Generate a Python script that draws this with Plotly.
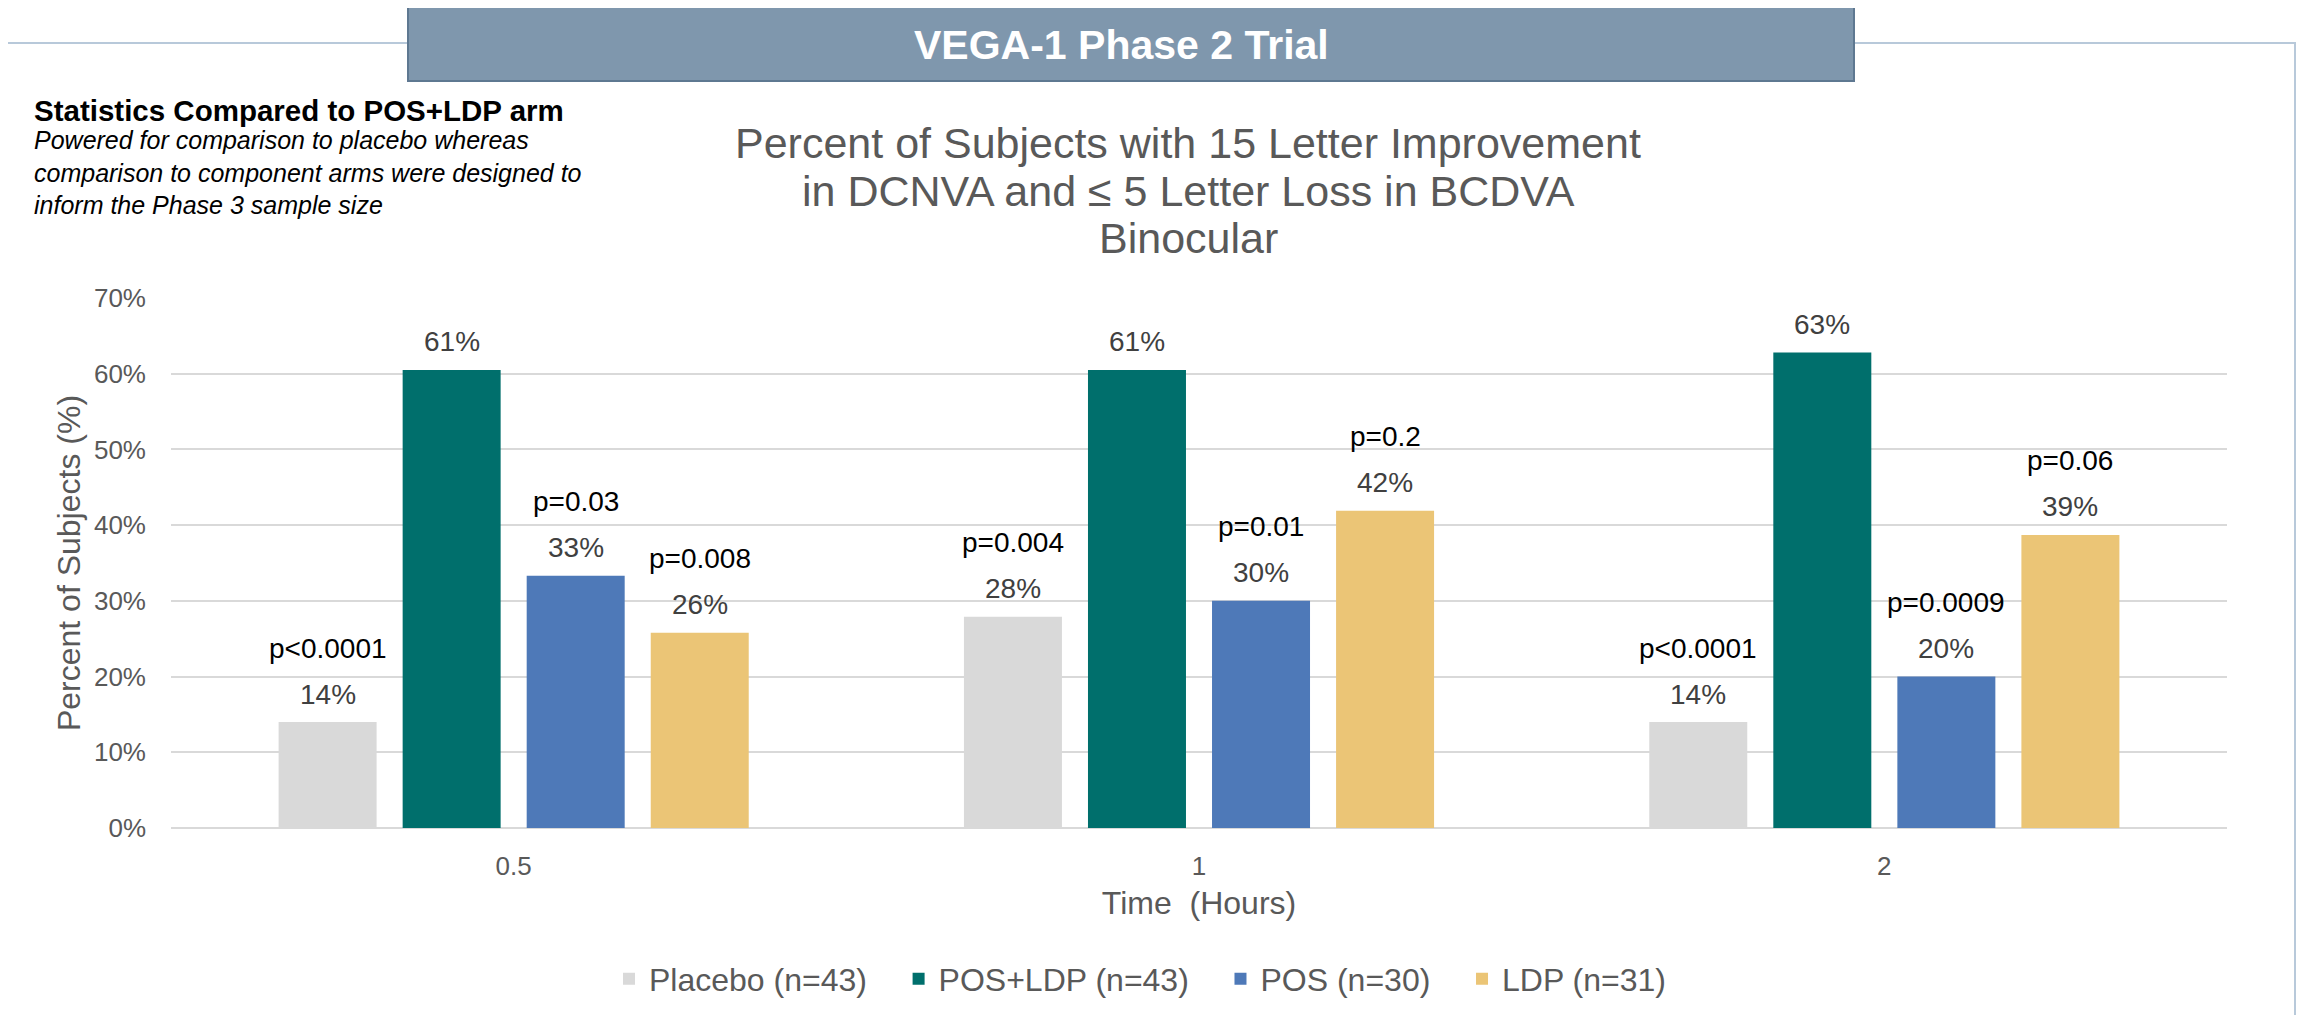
import plotly.graph_objects as go

# datos del grafico
horas = ['0.5', '1', '2']
series = ['Placebo (n=43)', 'POS+LDP (n=43)', 'POS (n=30)', 'LDP (n=31)']
placebo = [14.0, 27.9, 14.0]
pos_ldp = [60.5, 60.5, 62.8]
pos = [33.3, 30.0, 20.0]
ldp = [25.8, 41.9, 38.7]
p_placebo = ['p<0.0001', 'p=0.004', 'p<0.0001']
p_pos_ldp = ['', '', '']
p_pos = ['p=0.03', 'p=0.01', 'p=0.0009']
p_ldp = ['p=0.008', 'p=0.2', 'p=0.06']
colores = ['#d9d9d9', '#006f6c', '#4e79b8', '#ebc576']
titulo = ['Percent of Subjects with 15 Letter Improvement',
	'in DCNVA and ≤ 5 Letter Loss in BCDVA', 'Binocular']

valores = [placebo, pos_ldp, pos, ldp]
pvalores = [p_placebo, p_pos_ldp, p_pos, p_ldp]

# medidas (la pagina deja 8px de margen alrededor de la figura)
OFF = 8
W, H = 2305 - 2 * OFF, 1023 - 2 * OFF
M_L, M_R, M_T, M_B = 171 - OFF, 78 - OFF, 298 - OFF, 195 - OFF
PLOT_W = W - M_L - M_R
PLOT_H = H - M_T - M_B
BARGAP = 0.276
GROUPGAP = 0.21
FUENTE = 'Arial, Liberation Sans, sans-serif'
GRIS = '#595959'


def px_x(p):
	# pixel horizontal de la ventana -> coordenada paper
	return (p - OFF - M_L) / PLOT_W


def px_y(p):
	# pixel vertical de la ventana -> coordenada paper
	return (H - M_B - (p - OFF)) / PLOT_H


fig = go.Figure()
for nombre, ys, color in zip(series, valores, colores):
	fig.add_trace(go.Bar(x=horas, y=ys, name=nombre + '\u00a0' * 3,
		marker=dict(color=color, line=dict(width=0))))

# etiquetas de valor y de p sobre cada barra
slot = (1 - BARGAP) / len(series)
anotaciones = []
for i, (ys, ps) in enumerate(zip(valores, pvalores)):
	for j, (v, p) in enumerate(zip(ys, ps)):
		xx = j + (i - (len(series) - 1) / 2) * slot
		anotaciones.append(dict(x=xx, y=v, xref='x', yref='y', text='%.0f%%' % (v + 1e-9),
			showarrow=False, yanchor='middle', yshift=28,
			font=dict(size=28, color='#404040', family=FUENTE)))
		if p:
			anotaciones.append(dict(x=xx, y=v, xref='x', yref='y', text=p,
				showarrow=False, yanchor='middle', yshift=74,
				font=dict(size=28, color='black', family=FUENTE)))

# titulo del grafico, una linea por anotacion
for k, linea in enumerate(titulo):
	anotaciones.append(dict(x=px_x(1188), y=px_y(143 + 47.5 * k), xref='paper', yref='paper',
		text=linea, showarrow=False, xanchor='center', yanchor='middle',
		font=dict(size=43, color=GRIS, family=FUENTE)))

# textos de la cabecera
anotaciones.append(dict(x=px_x(1121), y=px_y(45), xref='paper', yref='paper',
	text='<b>VEGA-1 Phase 2 Trial</b>', showarrow=False, xanchor='center', yanchor='middle',
	font=dict(size=41, color='white', family=FUENTE)))
anotaciones.append(dict(x=px_x(32), y=px_y(110), xref='paper', yref='paper',
	text='<b>Statistics Compared to POS+LDP arm</b>', showarrow=False,
	xanchor='left', yanchor='middle', font=dict(size=29.5, color='black', family=FUENTE)))
anotaciones.append(dict(x=px_x(32), y=px_y(172), xref='paper', yref='paper',
	text='<i>Powered for comparison to placebo whereas<br>comparison to component arms were designed to<br>inform the Phase 3 sample size</i>',
	showarrow=False, xanchor='left', yanchor='middle', align='left',
	font=dict(size=25, color='black', family=FUENTE)))

formas = [
	# marco exterior
	dict(type='rect', xref='paper', yref='paper', x0=px_x(4), x1=px_x(2295),
		y0=px_y(1040), y1=px_y(43), line=dict(color='#b8c9da', width=2)),
	# caja del titulo
	dict(type='rect', xref='paper', yref='paper', x0=px_x(408), x1=px_x(1854),
		y0=px_y(81), y1=px_y(7), fillcolor='#7f97ad', line=dict(color='#5e7891', width=2)),
]

fig.update_layout(
	width=W, height=H,
	margin=dict(l=M_L, r=M_R, t=M_T, b=M_B, autoexpand=False),
	barmode='group', bargap=BARGAP, bargroupgap=GROUPGAP,
	plot_bgcolor='white', paper_bgcolor='white',
	font=dict(family=FUENTE, color=GRIS),
	xaxis=dict(type='category', showgrid=False, showline=False, ticks='',
		tickfont=dict(size=26, color=GRIS), ticklabelstandoff=20, automargin=False,
		title=dict(text='Time\u00a0 (Hours)', font=dict(size=32, color=GRIS), standoff=11)),
	yaxis=dict(range=[0, 70], dtick=10, ticksuffix='%', showline=False, ticks='',
		gridcolor='#d9d9d9', gridwidth=2, zeroline=True, zerolinecolor='#d9d9d9', zerolinewidth=2,
		tickfont=dict(size=26, color=GRIS), ticklabelstandoff=24, automargin=False,
		title=dict(text='Percent of Subjects (%)', font=dict(size=32, color=GRIS), standoff=3)),
	legend=dict(orientation='h', x=px_x(628 - 19), xanchor='left', y=px_y(979), yanchor='middle',
		font=dict(size=32, color=GRIS), bgcolor='rgba(0,0,0,0)'),
	annotations=anotaciones,
	shapes=formas,
)

fig.write_html('out.html')
